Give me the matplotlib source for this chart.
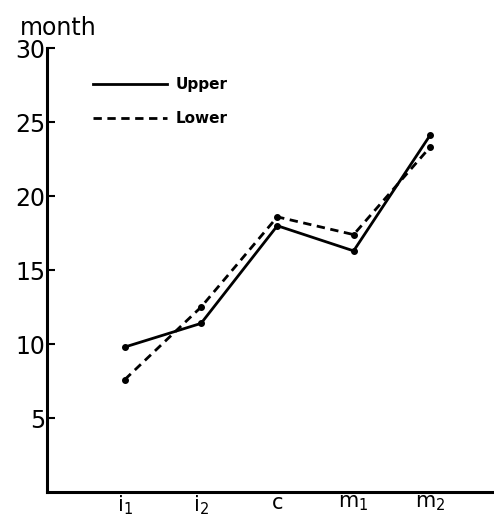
import matplotlib
matplotlib.use("Agg")
from matplotlib import pyplot as plt

categories = ["i$_1$", "i$_2$", "c", "m$_1$", "m$_2$"]
upper = [9.8, 11.4, 18.0, 16.3, 24.1]
lower = [7.6, 12.5, 18.6, 17.4, 23.3]
yticks = [5, 10, 15, 20, 25, 30]

fig = plt.figure(figsize=(4.94, 5.24), dpi=100)
ax = fig.add_axes([0.095, 0.061, 0.905, 0.847])

x = list(range(1, len(categories) + 1))
ax.plot(x, upper, color="black", linewidth=2.0, marker="o", markersize=4, label="Upper")
ax.plot(x, lower, color="black", linewidth=2.0, linestyle=(0, (3, 2)), marker="o", markersize=4, label="Lower")

ax.set_xlim(-0.02, 5.84)
ax.set_ylim(0, 30)
ax.set_yticks(yticks)
ax.set_yticklabels([str(v) for v in yticks])
ax.set_xticks(x)
ax.set_xticklabels(categories)

for s in ["top", "right"]:
    ax.spines[s].set_visible(False)
for s in ["left", "bottom"]:
    ax.spines[s].set_linewidth(2.2)

ax.tick_params(axis="y", direction="in", length=6, width=1.5, pad=1, labelsize=17)
ax.tick_params(axis="x", length=0, pad=1, labelsize=15)

fig.text(20 / 494, 1 - 35 / 524, "month", fontsize=17, ha="left", va="baseline")

leg = ax.legend(loc="upper left", bbox_to_anchor=(0.09, 0.948), frameon=False,
                handlelength=4.8, prop={"weight": "bold", "size": 11}, handletextpad=0.6,
                labelspacing=1.25, borderaxespad=0)
for line in leg.get_lines():
    line.set_marker("")

fig.savefig("out.png", dpi=100)
